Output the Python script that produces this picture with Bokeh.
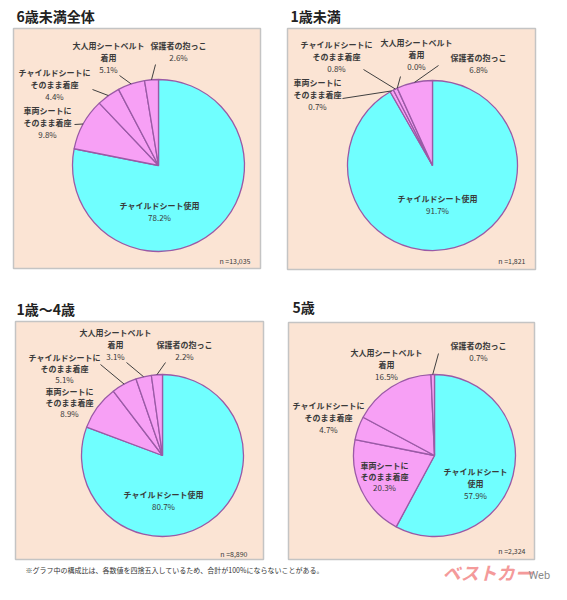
import numpy as np
from bokeh.plotting import figure
from bokeh.models import Range1d, ColumnDataSource
from bokeh.core.properties import value
from bokeh.embed import file_html
from bokeh.resources import INLINE

# ---------------- data ----------------
categories = ["チャイルドシート使用", "車両シートにそのまま着座", "チャイルドシートにそのまま着座",
              "大人用シートベルト着用", "保護者の抱っこ"]
panel_titles = ["6歳未満全体", "1歳未満", "1歳～4歳", "5歳"]
values_all = [78.2, 9.8, 4.4, 5.1, 2.6]
values_under1 = [91.7, 0.7, 0.8, 0.0, 6.8]
values_1to4 = [80.7, 8.9, 5.1, 3.1, 2.2]
values_age5 = [57.9, 20.3, 4.7, 16.5, 0.7]
sample_sizes = ["13,035", "1,821", "8,890", "2,324"]
footnote = "※グラフ中の構成比は、各数値を四捨五入しているため、合計が100%にならないことがある。"

# ---------------- layout ----------------
FONT = value("Noto Sans CJK JP")
W, H = 567, 600
def Y(y):
    return H - y

CYAN = "#70FFFF"
PINK = "#F7A0F5"
colors = [CYAN, PINK, PINK, PINK, PINK]

label_lines_default = [["チャイルドシート使用"], ["車両シートに", "そのまま着座"],
                       ["チャイルドシートに", "そのまま着座"], ["大人用シートベルト", "着用"],
                       ["保護者の抱っこ"]]
label_lines_5 = [["チャイルドシート", "使用"]] + label_lines_default[1:]

# label entries: (x, first-line y, line spacing, leader start or None)
panels = [
    dict(title=panel_titles[0], vals=values_all, n=sample_sizes[0], title_xy=(24, 23),
         box=(21, 268, 36, 276), c=(166, 173), r=86, n_xy=(258, 268), lines=label_lines_default,
         labels=[(167, 213, 12, None), (55, 118, 12, (82, 132)), (62, 80, 12, (100, 97)),
                 (116, 53, 12, (127, 83)), (186, 53, 12, (163, 72))]),
    dict(title=panel_titles[1], vals=values_under1, n=sample_sizes[1], title_xy=(298, 23),
         box=(295, 543, 36, 277), c=(440, 173), r=85, n_xy=(533, 268), lines=label_lines_default,
         labels=[(445, 206, 12, None), (325, 90, 12, (350, 106)), (344, 52, 12, (371, 77)),
                 (424, 50, 12, (408, 84)), (486, 65, 12, (446, 73))]),
    dict(title=panel_titles[2], vals=values_1to4, n=sample_sizes[2], title_xy=(24, 316),
         box=(23, 271, 329, 567), c=(170, 463), r=81, n_xy=(255, 561), lines=label_lines_default,
         labels=[(171, 502, 12, None), (77, 399, 11, None), (72, 365, 11, (108, 372)),
                 (123, 340, 12, (134, 370)), (192, 352, 12, (173, 370))]),
    dict(title=panel_titles[3], vals=values_age5, n=sample_sizes[3], title_xy=(300, 314),
         box=(296, 542, 330, 567), c=(442, 463), r=81, n_xy=(533, 558), lines=label_lines_5,
         labels=[(483, 479, 12, None), (392, 473, 11, None), (336, 413, 12, None),
                 (394, 360, 12, None), (486, 353, 12, (446, 361))]),
]

p = figure(width=551, height=584, x_range=Range1d(8, 559), y_range=Range1d(8, 592),
           output_backend="svg", toolbar_location=None, min_border=0)
p.axis.visible = False
p.grid.visible = False
p.outline_line_color = None
p.background_fill_color = "white"

TXT = "#3A3A3A"

for pn in panels:
    l, r_, t, b = pn["box"]
    p.quad(left=[l], right=[r_], top=[Y(t)], bottom=[Y(b)], fill_color="#FBE4D4",
           line_color="#C4C4C4", line_width=1.5)
    p.text(x=[pn["title_xy"][0]], y=[Y(pn["title_xy"][1])], text=[pn["title"]],
           text_font=FONT, text_font_size="14px", text_font_style="bold",
           text_color="#222222", text_baseline="middle", text_align="left")

    vals = np.array(pn["vals"], dtype=float)
    frac = vals / vals.sum()
    cum = np.concatenate([[0], np.cumsum(frac)])
    start = np.pi / 2 - cum[1:] * 2 * np.pi
    end = np.pi / 2 - cum[:-1] * 2 * np.pi
    keep = frac > 0
    cx, cy = pn["c"]
    src = ColumnDataSource(dict(x=[cx] * int(keep.sum()), y=[Y(cy)] * int(keep.sum()),
                                start=start[keep], end=end[keep],
                                color=[c for c, k in zip(colors, keep) if k]))
    p.wedge(x="x", y="y", radius=pn["r"], start_angle="start", end_angle="end",
            fill_color="color", line_color="#9A5AA6", line_width=1.3, source=src)

    mids = (cum[:-1] + cum[1:]) / 2
    for i, (lx, ly, sp, lead) in enumerate(pn["labels"]):
        lines = pn["lines"][i]
        for k, s in enumerate(lines):
            p.text(x=[lx], y=[Y(ly + k * sp)], text=[s], text_font=FONT,
                   text_font_size="8px", text_font_style="bold", text_color=TXT,
                   text_align="center", text_baseline="middle")
        p.text(x=[lx], y=[Y(ly + len(lines) * sp)], text=[f"{pn['vals'][i]:.1f}%"],
               text_font=FONT, text_font_size="8px", text_color=TXT,
               text_align="center", text_baseline="middle")
        if lead is not None:
            ang = mids[i] * 2 * np.pi
            ex = cx + pn["r"] * np.sin(ang)
            ey = cy - pn["r"] * np.cos(ang)
            p.line(x=[lead[0], ex], y=[Y(lead[1]), Y(ey)], line_color="#404040", line_width=1)

    p.text(x=[pn["n_xy"][0]], y=[Y(pn["n_xy"][1])], text=[f"n ={pn['n']}"], text_font=FONT,
           text_font_size="7px", text_color=TXT, text_align="right", text_baseline="middle")

p.text(x=[33], y=[Y(577)], text=[footnote], text_font=FONT, text_font_size="7px",
       text_color="#333333", text_align="left", text_baseline="middle")

p.text(x=[450], y=[Y(579)], text=["ベストカー"], text_font=FONT, text_font_size="18px",
       text_font_style="bold italic", text_color="#F49A9A", text_align="left",
       text_baseline="middle")
p.text(x=[536], y=[Y(583)], text=["Web"], text_font=value("Roboto"), text_font_size="11px",
       text_color="#8A8A8A", text_align="left", text_baseline="middle")

open("out.html", "w").write(file_html(p, INLINE))
